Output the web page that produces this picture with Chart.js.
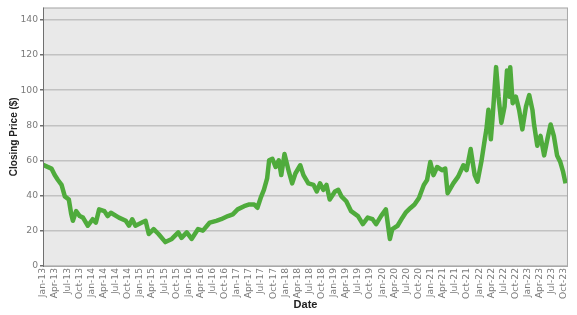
<!DOCTYPE html>
<html>
<head>
<meta charset="utf-8">
<script src="https://cdn.jsdelivr.net/npm/chart.js@4"></script>
<style>
  html, body { margin: 0; padding: 0; background: #fff; }
  #wrap { width: 577px; height: 315px; }
</style>
</head>
<body>
<div id="wrap"><canvas id="price-chart"></canvas></div>
<script>
// months since Jan 2013
var monthIndex = [
  0, 1, 2.1, 2.9, 3.7, 4.6, 5.4, 6.4, 7.0, 7.4, 8.2, 9.1, 9.9, 11.1, 12.3, 13.1, 13.9,
  15.2, 16.0, 16.8, 18.8, 20.5, 21.3, 22.1, 22.9, 24.5, 25.4, 26.2, 27.4, 28.6, 30.3,
  31.9, 33.5, 34.3, 35.6, 36.8, 38.4, 39.6, 41.3, 42.9, 44.1, 45.8, 47.0, 48.2, 49.8,
  51.1, 52.3, 53.1, 53.9, 54.7, 55.5, 56.0, 56.8, 57.6, 58.4, 59.0, 59.8, 60.9, 61.7,
  62.5, 63.7, 64.5, 65.7, 67.0, 67.8, 68.6, 69.4, 70.2, 71.0, 72.3, 73.1, 73.9, 75.1,
  76.3, 78.0, 79.2, 80.4, 81.6, 82.5, 83.7, 84.9, 85.9, 86.5, 87.8, 89.0, 89.8, 91.0,
  92.0, 93.1, 94.3, 95.1, 95.9, 96.7, 97.6, 98.8, 99.6, 100.2, 101.6, 102.8, 104.1,
  104.9, 105.9, 106.9, 107.6, 108.6, 109.4, 109.8, 110.3, 110.9, 111.3, 112.2, 112.8,
  113.5, 114.3, 114.9, 115.5, 115.7, 116.3, 117.1, 117.9, 118.7, 119.6, 120.4, 121.2,
  121.6, 122.4, 123.2, 124.1, 124.9, 125.7, 126.5, 127.3, 128.1, 128.8, 129.4
];
var closingPrice = [
  57.6, 56.5, 55.4, 51.7, 48.9, 46.1, 39.6, 37.8, 29.4, 25.7, 31.2, 28.4, 27.5, 22.9, 26.6, 24.7, 32.2,
  31.2, 28.4, 30.3, 27.5, 25.7, 22.9, 26.6, 22.9, 24.7, 25.7, 18.2, 21.0, 18.2, 13.6,
  15.4, 19.1, 16.0, 19.1, 15.4, 21.0, 20.1, 24.7, 25.7, 26.6, 28.4, 29.4, 32.2, 34.0,
  35.0, 35.0, 33.1, 38.7, 43.3, 49.8, 60.1, 61.0, 56.3, 60.1, 51.7, 63.7, 53.5, 47.0,
  52.6, 57.3, 51.7, 47.0, 46.1, 42.4, 47.0, 43.3, 46.1, 37.8, 42.4, 43.3, 39.6, 36.8,
  31.2, 28.4, 23.8, 27.5, 26.6, 23.8, 28.4, 32.2, 15.4, 21.0, 22.9, 27.5, 30.3, 33.0,
  35.0, 38.7, 46.1, 48.9, 59.1, 51.7, 56.3, 54.5, 55.4, 41.4, 47.0, 50.8, 57.3,
  54.5, 66.5, 51.7, 48.0, 60.0, 72.0, 77.7, 88.8, 72.1, 83.3, 113.1, 96.3,
  81.4, 90.7, 111.2, 96.3, 113.1, 92.6, 96.3, 88.8, 77.7, 90.7, 97.2, 88.8,
  80.5, 68.4, 74.0, 62.9, 72.1, 80.5, 74.0, 62.9, 59.1, 53.5, 47.0
];
var tickLabels = [
  'Jan-13', 'Apr-13', 'Jul-13', 'Oct-13', 'Jan-14', 'Apr-14', 'Jul-14', 'Oct-14',
  'Jan-15', 'Apr-15', 'Jul-15', 'Oct-15', 'Jan-16', 'Apr-16', 'Jul-16', 'Oct-16',
  'Jan-17', 'Apr-17', 'Jul-17', 'Oct-17', 'Jan-18', 'Apr-18', 'Jul-18', 'Oct-18',
  'Jan-19', 'Apr-19', 'Jul-19', 'Oct-19', 'Jan-20', 'Apr-20', 'Jul-20', 'Oct-20',
  'Jan-21', 'Apr-21', 'Jul-21', 'Oct-21', 'Jan-22', 'Apr-22', 'Jul-22', 'Oct-22',
  'Jan-23', 'Apr-23', 'Jul-23', 'Oct-23'
];
var priceTicks = [0, 20, 40, 60, 80, 100, 120, 140];

var points = monthIndex.map(function (m, i) { return { x: m, y: closingPrice[i] }; });

// grey plot background + frame
var plotBackground = {
  id: 'plotBackground',
  beforeDraw: function (chart) {
    var a = chart.chartArea, ctx = chart.ctx;
    ctx.save();
    ctx.fillStyle = '#e9e9e9';
    ctx.fillRect(a.left, a.top, a.right - a.left, a.bottom - a.top);
    ctx.restore();
  },
  afterDatasetsDraw: function (chart) {
    var a = chart.chartArea, ctx = chart.ctx;
    ctx.save();
    ctx.strokeStyle = '#a8a8a8';
    ctx.lineWidth = 1;
    ctx.strokeRect(a.left + 0.5, a.top + 0.5, a.right - a.left - 1, a.bottom - a.top);
    ctx.strokeStyle = '#6f6f6f';
    ctx.beginPath();
    ctx.moveTo(a.left + 0.5, a.top);
    ctx.lineTo(a.left + 0.5, a.bottom + 1);
    ctx.stroke();
    ctx.restore();
  }
};

var tickFont = { family: 'DejaVu Sans', size: 9.2 };

var ctx = document.getElementById('price-chart').getContext('2d');
var chart = new Chart(ctx, {
  type: 'line',
  data: {
    datasets: [{
      label: 'Closing Price',
      data: points,
      borderColor: '#4fab3c',
      borderWidth: 4.5,
      borderJoinStyle: 'round',
      pointRadius: 0,
      tension: 0,
      fill: false
    }]
  },
  options: {
    responsive: true,
    maintainAspectRatio: false,
    animation: false,
    layout: { padding: { top: 3, right: 3, left: 0, bottom: 0 } },
    plugins: { legend: { display: false }, tooltip: { enabled: false } },
    scales: {
      x: {
        type: 'linear',
        min: 0,
        max: 130,
        // one tick per quarter
        afterBuildTicks: function (scale) {
          scale.ticks = tickLabels.map(function (l, i) { return { value: i * 3 }; });
        },
        afterFit: function (scale) { scale.height = 49; },
        ticks: {
          autoSkip: false,
          maxRotation: 90,
          minRotation: 90,
          padding: 2,
          color: '#7a7a7a',
          font: tickFont,
          callback: function (v) { return tickLabels[Math.round(v / 3)]; }
        },
        grid: { display: false, drawTicks: false },
        border: { display: true, color: '#a8a8a8' },
        title: {
          display: true, text: 'Date', color: '#222',
          font: { family: 'Liberation Sans', size: 11, weight: 'bold' },
          padding: { top: 0, bottom: 3 }
        }
      },
      y: {
        min: 0,
        max: 147,
        afterBuildTicks: function (scale) {
          scale.ticks = priceTicks.map(function (v) { return { value: v }; });
        },
        afterFit: function (scale) { scale.width = 43; },
        ticks: { color: '#7a7a7a', font: tickFont, padding: 2 },
        grid: { color: '#c2c2c2', lineWidth: 1.5, tickLength: 3, tickColor: '#6f6f6f' },
        border: { display: false },
        title: {
          display: true, text: 'Closing Price ($)', color: '#222',
          font: { family: 'Liberation Sans', size: 10, weight: 'bold' },
          padding: { top: 8, bottom: 0 }
        }
      }
    }
  },
  plugins: [plotBackground]
});
</script>
</body>
</html>
